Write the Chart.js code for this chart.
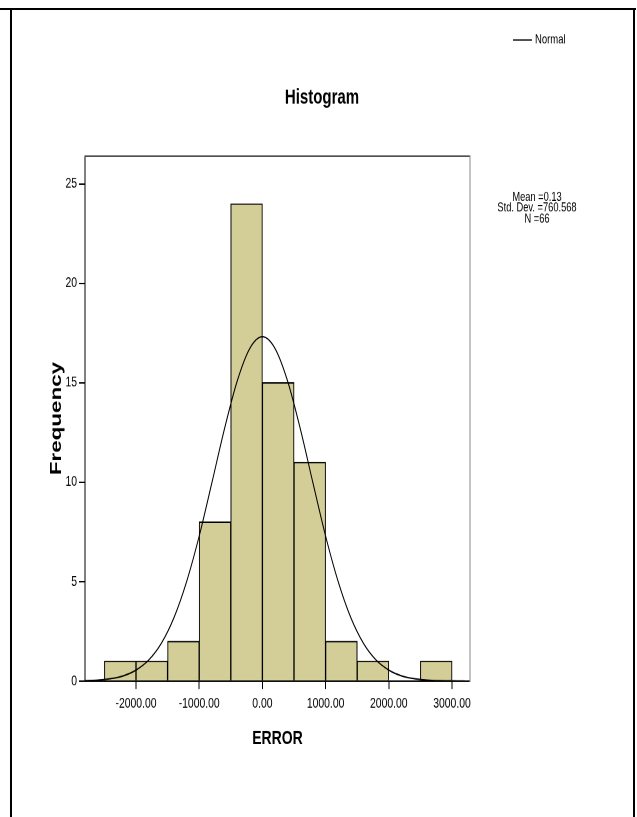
<!DOCTYPE html>
<html>
<head>
<meta charset="utf-8">
<script src="https://cdn.jsdelivr.net/npm/chart.js@4.4.1/dist/chart.umd.min.js"></script>
<style>
html,body{margin:0;padding:0;background:#fff;overflow:hidden;width:637px;height:817px;}
#wrap{position:absolute;left:0;top:0;width:637px;height:817px;}
#c{position:absolute;left:0;top:0;transform:scaleY(1.4);transform-origin:0 0;}
.rule{position:absolute;background:#000;}
</style>
</head>
<body>
<div id="wrap"><canvas id="c" width="637" height="584" style="width:637px;height:584px"></canvas></div>
<div class="rule" style="left:0;top:8px;width:636px;height:2px"></div>
<div class="rule" style="left:10px;top:8px;width:2px;height:809px"></div>
<div class="rule" style="left:633px;top:8px;width:2px;height:809px"></div>
<script>
// ---- data ----
const binCenters  = [-2250, -1750, -1250, -750, -250, 250, 750, 1250, 1750, 2250, 2750];
const frequencies = [1, 1, 2, 8, 24, 15, 11, 2, 1, 0, 1];
const curveX = [-2800, -2600, -2400, -2200, -2000, -1800, -1600, -1400, -1200, -1000, -800, -600, -400, -200, 0,
                 200, 400, 600, 800, 1000, 1200, 1400, 1600, 1800, 2000, 2200, 2400, 2600, 2800, 3000, 3200];
const curveY = [0.02, 0.05, 0.12, 0.26, 0.55, 1.05, 1.89, 3.18, 4.99, 7.29, 9.96, 12.68, 15.07, 16.72, 17.31,
                16.72, 15.07, 12.68, 9.96, 7.29, 4.99, 3.18, 1.89, 1.05, 0.55, 0.26, 0.12, 0.05, 0.02, 0.01, 0.00];
const xTickValues = [-2000, -1000, 0, 1000, 2000, 3000];
const yTickValues = [0, 5, 10, 15, 20, 25];
const statsLines = ['Mean =0.13', 'Std. Dev. =760.568', 'N =66'];
const chartTitle = 'Histogram';
const xTitle = 'ERROR';
const yTitle = 'Frequency';
const curveLabel = 'Normal';

// ---- layout (canvas is drawn then stretched vertically by K) ----
const K = 1.4;
const sy = v => v / K;
const FONT = "'Liberation Sans', Arial, sans-serif";
const CANVAS_H = 584;
const CHART_TOP = sy(156), CHART_BOTTOM = sy(681);
const TITLE_LH = 18, TITLE_PAD_TOP = sy(97.5) - TITLE_LH / 2, TITLE_PAD_BOTTOM = 8;
const X2_H = CHART_TOP - (TITLE_PAD_TOP + TITLE_LH + TITLE_PAD_BOTTOM);

const sideNotes = {
  id: 'sideNotes',
  afterDraw(chart) {
    const ctx = chart.ctx;
    ctx.save();
    ctx.fillStyle = '#000';
    ctx.strokeStyle = '#000';
    ctx.textBaseline = 'middle';
    const ly = sy(40);
    ctx.lineWidth = 0.9;
    ctx.beginPath(); ctx.moveTo(513, ly); ctx.lineTo(532, ly); ctx.stroke();
    ctx.font = '9.5px ' + FONT;
    ctx.textAlign = 'left';
    ctx.fillText(chart.data.datasets[1].label, 535, ly);
    ctx.font = '9.3px ' + FONT;
    ctx.textAlign = 'center';
    statsLines.forEach((t, i) => ctx.fillText(t, 537, sy(197 + i * 11)));
    ctx.restore();
  }
};

new Chart(document.getElementById('c'), {
  type: 'bar',
  data: {
    datasets: [
      {
        type: 'bar',
        label: 'Frequency',
        data: binCenters.map((c, i) => ({x: c, y: frequencies[i]})),
        backgroundColor: 'rgb(211,206,151)',
        borderColor: '#000',
        borderWidth: 1,
        barPercentage: 1,
        categoryPercentage: 1,
        xAxisID: 'x', yAxisID: 'y',
        order: 1
      },
      {
        type: 'line',
        label: curveLabel,
        data: curveX.map((x, i) => ({x: x, y: curveY[i]})),
        borderColor: '#000',
        borderWidth: 1,
        pointRadius: 0,
        fill: false,
        cubicInterpolationMode: 'monotone',
        xAxisID: 'x', yAxisID: 'y',
        order: 0
      }
    ]
  },
  options: {
    responsive: false,
    devicePixelRatio: 2,
    animation: false,
    events: [],
    layout: {padding: {left: 7, right: 0, top: 0, bottom: 0}},
    plugins: {
      legend: {display: false},
      tooltip: {enabled: false},
      title: {
        display: true, text: chartTitle, color: '#000',
        font: {family: FONT, size: 15, weight: 'bold', lineHeight: 1.2},
        padding: {top: TITLE_PAD_TOP, bottom: TITLE_PAD_BOTTOM}
      }
    },
    scales: {
      x: {
        type: 'linear', position: 'bottom', min: -2807, max: 3285, offset: false,
        afterBuildTicks: s => { s.ticks = xTickValues.map(v => ({value: v})); },
        afterFit: s => { s.height = CANVAS_H - CHART_BOTTOM; },
        ticks: {color: '#000', font: {family: FONT, size: 10.4}, padding: 4.1, autoSkip: false,
                maxRotation: 0, minRotation: 0, callback: v => Number(v).toFixed(2)},
        grid: {display: true, drawOnChartArea: false, drawTicks: true, tickLength: sy(8), color: '#000', offset: false},
        border: {display: true, color: '#000', width: 1},
        title: {display: true, text: xTitle, color: '#000',
                font: {family: FONT, size: 14, weight: 'bold', lineHeight: 1.2},
                padding: {top: 0, bottom: CANVAS_H - sy(739) - 8.4}}
      },
      y: {
        type: 'linear', position: 'left', min: 0, max: 26.4,
        afterBuildTicks: s => { s.ticks = yTickValues.map(v => ({value: v})); },
        afterFit: s => { s.width = 78; },
        ticks: {color: '#000', font: {family: FONT, size: 10.4}, padding: 2, callback: v => String(v)},
        grid: {display: true, drawOnChartArea: false, drawTicks: true, tickLength: 6, color: '#000'},
        border: {display: true, color: '#000', width: 1},
        title: {display: true, text: yTitle, color: '#000',
                font: {family: FONT, size: 16, weight: 'bold', lineHeight: 1.2},
                padding: {top: 40.1, bottom: 0}}
      },
      x2: {
        type: 'linear', position: 'top', display: true, min: -2807, max: 3285,
        afterFit: s => { s.height = X2_H; },
        ticks: {display: false}, grid: {display: false},
        border: {display: true, color: '#444', width: 1}
      },
      y2: {
        type: 'linear', position: 'right', display: true, min: 0, max: 26.4,
        afterFit: s => { s.width = 167; },
        ticks: {display: false}, grid: {display: false},
        border: {display: true, color: '#888', width: 1}
      }
    }
  },
  plugins: [sideNotes]
});
</script>
</body>
</html>
